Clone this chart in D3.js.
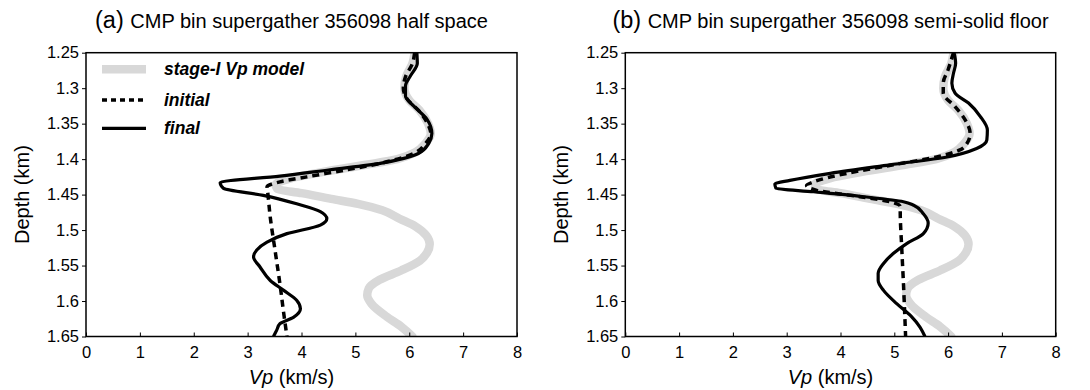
<!DOCTYPE html>
<html>
<head>
<meta charset="utf-8">
<script src="https://cdn.jsdelivr.net/npm/d3@7"></script>
<style>
  html, body { margin: 0; padding: 0; background: #fff; }
  svg { display: block; font-family: "Liberation Sans", Arial, Helvetica, sans-serif; }
</style>
</head>
<body>
<svg id="chart" width="1090" height="390"></svg>
<script>
// ---------------- data ----------------
const xTicks = [0, 1, 2, 3, 4, 5, 6, 7, 8];
const yTicks = [1.25, 1.3, 1.35, 1.4, 1.45, 1.5, 1.55, 1.6, 1.65];
const yTickLabels = ["1.25", "1.3", "1.35", "1.4", "1.45", "1.5", "1.55", "1.6", "1.65"];
const panelTitles = ["CMP bin supergather 356098 half space", "CMP bin supergather 356098 semi-solid floor"];
const panelTags = ["(a)", "(b)"];
const legendLabels = ["stage-I Vp model", "initial", "final"];

// stage-I Vp model (shared by both panels)
const stageDepth = [1.250, 1.265, 1.284, 1.300, 1.317, 1.331, 1.350, 1.364, 1.378, 1.390, 1.400, 1.408, 1.418, 1.427, 1.436, 1.442, 1.448, 1.456, 1.463, 1.472, 1.484, 1.495, 1.508, 1.520, 1.532, 1.543, 1.557, 1.570, 1.582, 1.592, 1.604, 1.622, 1.636, 1.650];
const stageVp    = [6.10, 6.06, 5.94, 5.91, 6.00, 6.19, 6.35, 6.40, 6.30, 6.12, 5.78, 5.20, 4.40, 3.80, 3.52, 3.55, 4.00, 4.55, 5.05, 5.50, 5.82, 6.12, 6.32, 6.38, 6.33, 6.20, 5.85, 5.45, 5.25, 5.22, 5.30, 5.58, 5.85, 6.06];

// panel (a) half space
const aInitDepth = [1.250, 1.265, 1.284, 1.300, 1.317, 1.331, 1.350, 1.364, 1.378, 1.392, 1.406, 1.415, 1.425, 1.432, 1.439, 1.445, 1.482, 1.529, 1.576, 1.623, 1.650];
const aInitVp    = [6.10, 6.06, 5.93, 5.89, 5.98, 6.17, 6.34, 6.40, 6.30, 6.08, 5.46, 4.84, 4.10, 3.60, 3.36, 3.37, 3.42, 3.51, 3.60, 3.68, 3.73];
const aFinalDepth = [1.250, 1.265, 1.283, 1.297, 1.311, 1.325, 1.344, 1.364, 1.378, 1.392, 1.399, 1.406, 1.415, 1.424, 1.433, 1.441, 1.451, 1.463, 1.474, 1.484, 1.493, 1.505, 1.517, 1.528, 1.538, 1.552, 1.571, 1.585, 1.599, 1.611, 1.623, 1.632, 1.641, 1.650];
const aFinalVp    = [6.14, 6.15, 6.02, 5.93, 5.93, 6.08, 6.33, 6.42, 6.36, 6.17, 5.90, 5.46, 4.53, 3.60, 2.49, 2.55, 3.29, 3.91, 4.35, 4.47, 4.35, 3.73, 3.36, 3.17, 3.11, 3.23, 3.42, 3.67, 3.91, 3.98, 3.85, 3.60, 3.54, 3.48];

// panel (b) semi-solid floor
const bInitDepth = [1.250, 1.274, 1.293, 1.307, 1.326, 1.345, 1.364, 1.378, 1.387, 1.397, 1.408, 1.420, 1.432, 1.437, 1.444, 1.453, 1.460, 1.467, 1.472, 1.528, 1.575, 1.650];
const bInitVp    = [6.10, 6.00, 5.91, 5.91, 6.13, 6.32, 6.41, 6.35, 6.22, 5.79, 4.98, 4.12, 3.50, 3.37, 3.56, 4.36, 4.92, 5.11, 5.11, 5.14, 5.17, 5.21];
const bFinalDepth = [1.250, 1.265, 1.279, 1.293, 1.307, 1.321, 1.340, 1.359, 1.373, 1.385, 1.397, 1.408, 1.420, 1.430, 1.435, 1.441, 1.446, 1.453, 1.460, 1.465, 1.477, 1.490, 1.505, 1.519, 1.533, 1.547, 1.561, 1.571, 1.585, 1.604, 1.622, 1.637, 1.650];
const bFinalVp    = [6.11, 6.14, 6.10, 6.07, 6.13, 6.38, 6.60, 6.73, 6.72, 6.53, 5.98, 4.92, 3.81, 3.06, 2.78, 2.80, 3.50, 4.43, 5.17, 5.36, 5.54, 5.63, 5.54, 5.23, 4.98, 4.80, 4.70, 4.70, 4.80, 5.05, 5.32, 5.48, 5.57];

// ---------------- drawing ----------------
const svg = d3.select("#chart");
const FONT = "'Liberation Sans', Arial, Helvetica, sans-serif";
const plotTop = 52.7, plotBottom = 336.5;
const panels = [
  { left: 86, right: 517, tag: panelTags[0], title: panelTitles[0],
    init: [aInitDepth, aInitVp], fin: [aFinalDepth, aFinalVp], legend: true },
  { left: 625.3, right: 1055.7, tag: panelTags[1], title: panelTitles[1],
    init: [bInitDepth, bInitVp], fin: [bFinalDepth, bFinalVp], legend: false }
];

const zip = (d, v) => d.map((dd, i) => ({ depth: dd, vp: v[i] }));

panels.forEach((p, pi) => {
  const x = d3.scaleLinear().domain([0, 8]).range([p.left, p.right]);
  const y = d3.scaleLinear().domain([1.25, 1.65]).range([plotTop, plotBottom]);
  const g = svg.append("g");

  const clipId = "clip" + pi;
  svg.append("clipPath").attr("id", clipId).append("rect")
    .attr("x", p.left).attr("y", plotTop).attr("width", p.right - p.left).attr("height", plotBottom - plotTop);

  const line = d3.line().x(d => x(d.vp)).y(d => y(d.depth)).curve(d3.curveMonotoneY);
  const curves = g.append("g").attr("clip-path", `url(#${clipId})`);

  curves.append("path").datum(zip(stageDepth, stageVp))
    .attr("d", line).attr("fill", "none").attr("stroke", "#d8d8d8")
    .attr("stroke-width", 8.5).attr("stroke-linejoin", "round").attr("stroke-linecap", "round");
  curves.append("path").datum(zip(p.init[0], p.init[1]))
    .attr("d", line).attr("fill", "none").attr("stroke", "#000")
    .attr("stroke-width", 3.5).attr("stroke-dasharray", "7,5");
  curves.append("path").datum(zip(p.fin[0], p.fin[1]))
    .attr("d", line).attr("fill", "none").attr("stroke", "#000")
    .attr("stroke-width", 3.2).attr("stroke-linejoin", "round");

  // x axis (ticks inside)
  const xAxis = d3.axisBottom(x).tickValues(xTicks).tickSize(-4).tickPadding(10).tickFormat(d3.format("d"));
  const xg = g.append("g").attr("transform", `translate(0,${plotBottom})`).call(xAxis);
  xg.select(".domain").remove();
  xg.selectAll("line").attr("stroke", "#000").attr("stroke-width", 1);
  xg.selectAll("text").attr("font-size", 16.5).attr("font-family", FONT).attr("fill", "#000");

  // y axis (ticks outside)
  const yAxis = d3.axisLeft(y).tickValues(yTicks).tickSize(4).tickPadding(3)
    .tickFormat((d, i) => yTickLabels[i]);
  const yg = g.append("g").attr("transform", `translate(${p.left},0)`).call(yAxis);
  yg.select(".domain").remove();
  yg.selectAll("line").attr("stroke", "#000").attr("stroke-width", 1);
  yg.selectAll("text").attr("font-size", 16.5).attr("font-family", FONT).attr("fill", "#000");

  // frame
  g.append("rect").attr("x", p.left).attr("y", plotTop)
    .attr("width", p.right - p.left).attr("height", plotBottom - plotTop)
    .attr("fill", "none").attr("stroke", "#000").attr("stroke-width", 1.5);

  // title
  const cx = (p.left + p.right) / 2 - 10;
  const t = g.append("text").attr("x", cx).attr("y", 28).attr("text-anchor", "middle")
    .attr("font-family", FONT).attr("fill", "#000");
  t.append("tspan").attr("font-size", 23.5).text(p.tag + " ");
  t.append("tspan").attr("font-size", 20).text(p.title);

  // x label
  const xl = g.append("text").attr("x", (p.left + p.right) / 2 - 10).attr("y", 384)
    .attr("text-anchor", "middle").attr("font-size", 20).attr("font-family", FONT).attr("fill", "#000");
  xl.append("tspan").attr("font-style", "italic").text("Vp");
  xl.append("tspan").text(" (km/s)");

  // y label
  g.append("text").attr("transform", `translate(${p.left - 64},${(plotTop + plotBottom) / 2}) rotate(-90)`)
    .attr("text-anchor", "middle").attr("dy", "0.35em").attr("font-size", 20).attr("font-family", FONT).attr("fill", "#000")
    .text("Depth (km)");

  // legend
  if (p.legend) {
    const rows = [69.3, 100, 128.3];
    const lx0 = 102, lx1 = 146;
    const lg = g.append("g");
    lg.append("line").attr("x1", lx0).attr("x2", lx1).attr("y1", rows[0]).attr("y2", rows[0])
      .attr("stroke", "#d8d8d8").attr("stroke-width", 8.5);
    lg.append("line").attr("x1", lx0).attr("x2", lx1).attr("y1", rows[1]).attr("y2", rows[1])
      .attr("stroke", "#000").attr("stroke-width", 3.5).attr("stroke-dasharray", "5,4");
    lg.append("line").attr("x1", lx0).attr("x2", lx1).attr("y1", rows[2]).attr("y2", rows[2])
      .attr("stroke", "#000").attr("stroke-width", 3.2);
    legendLabels.forEach((lab, i) => {
      lg.append("text").attr("x", 164).attr("y", rows[i] + 6)
        .attr("font-size", 17.5).attr("font-weight", "bold").attr("font-style", "italic")
        .attr("font-family", FONT).attr("fill", "#000").text(lab);
    });
  }
});
</script>
</body>
</html>
